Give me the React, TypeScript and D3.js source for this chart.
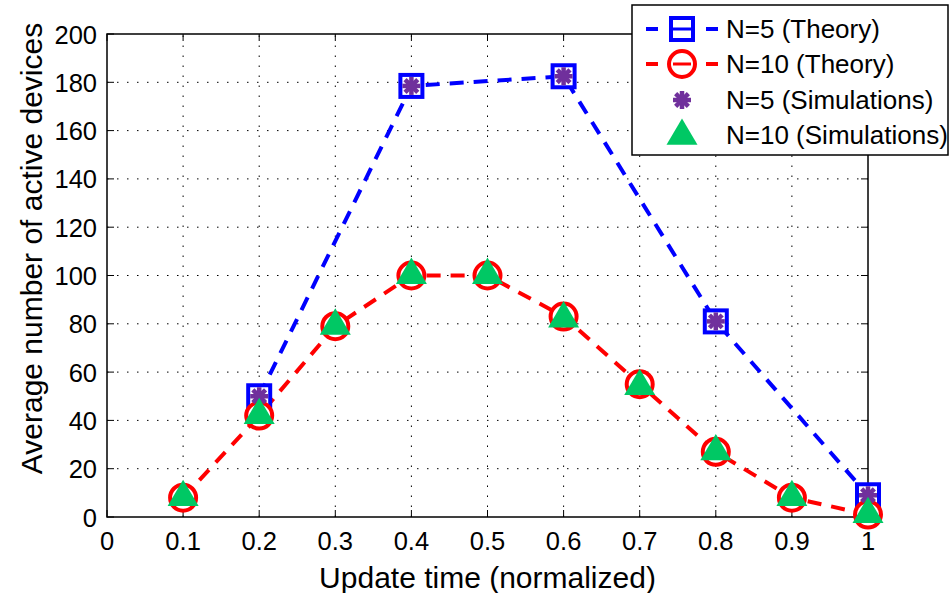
import React from "react";
import * as d3 from "d3";

const xTicks = [0, 0.1, 0.2, 0.3, 0.4, 0.5, 0.6, 0.7, 0.8, 0.9, 1];
const xTickLabels = ["0", "0.1", "0.2", "0.3", "0.4", "0.5", "0.6", "0.7", "0.8", "0.9", "1"];
const yTicks = [0, 20, 40, 60, 80, 100, 120, 140, 160, 180, 200];

const n5X = [0.2, 0.4, 0.6, 0.8, 1.0];
const n5Theory = [50, 178.5, 182.5, 81, 9];
const n5Sim = [50, 178.5, 182.5, 81, 9];

const n10X = [0.1, 0.2, 0.3, 0.4, 0.5, 0.6, 0.7, 0.8, 0.9, 1.0];
const n10Theory = [8, 42, 79, 100, 100, 83, 55, 27, 8, 1];
const n10Sim = [9, 43, 80, 101, 101, 83, 55, 28, 9, 2];

const legendLabels = ["N=5 (Theory)", "N=10 (Theory)", "N=5 (Simulations)", "N=10 (Simulations)"];

const BLUE = "#0000ff";
const RED = "#ff0000";
const PURPLE = "#70309c";
const GREEN = "#00c864";
const FONT = "'Liberation Sans', Arial, Helvetica, sans-serif";

const W = 951, H = 593;
const L = 107, R = 868, T = 34, B = 517;

const x = d3.scaleLinear().domain([0, 1]).range([L, R]);
const y = d3.scaleLinear().domain([0, 200]).range([B, T]);

const Square = ({ cx, cy }: { cx: number; cy: number }) => (
  <rect x={cx - 11} y={cy - 11} width={22} height={22} fill="white" stroke={BLUE} strokeWidth={4} />
);
const Circ = ({ cx, cy }: { cx: number; cy: number }) => (
  <circle cx={cx} cy={cy} r={13} fill="white" stroke={RED} strokeWidth={4} />
);
const Star = ({ cx, cy }: { cx: number; cy: number }) => (
  <g stroke={PURPLE} strokeWidth={4.5} strokeLinecap="butt">
    {[0, 45, 90, 135].map((a) => {
      const r = (a * Math.PI) / 180;
      const dx = Math.cos(r) * 9, dy = Math.sin(r) * 9;
      return <line key={a} x1={cx - dx} y1={cy - dy} x2={cx + dx} y2={cy + dy} />;
    })}
    <circle cx={cx} cy={cy} r={5} fill={PURPLE} stroke="none" />
  </g>
);
const Tri = ({ cx, cy }: { cx: number; cy: number }) => {
  const s = 15.5;
  const pts = `${cx},${cy - s} ${cx + s},${cy + s * 0.7} ${cx - s},${cy + s * 0.7}`;
  return <polygon points={pts} fill={GREEN} />;
};

export default function App() {
  const line = d3.line<[number, number]>().x((d) => x(d[0])).y((d) => y(d[1]));
  const n5Path = line(n5X.map((v, i) => [v, n5Theory[i]]) as [number, number][]) || "";
  const n10Path = line(n10X.map((v, i) => [v, n10Theory[i]]) as [number, number][]) || "";

  const legX = 632, legY = 5, legW = 316, legH = 150;
  const rowY = [29, 64, 100, 135];
  const mx = 682;

  return (
    <svg width={W} height={H} style={{ position: "absolute", left: 0, top: 0, background: "white" }} fontFamily={FONT}>
      <rect x={0} y={0} width={W} height={H} fill="white" />
      {/* grid */}
      <g stroke="#000" strokeWidth={1} strokeDasharray="1.5,8.5">
        {xTicks.slice(1, -1).map((t) => (
          <line key={"gx" + t} x1={x(t)} x2={x(t)} y1={B} y2={T} />
        ))}
        {yTicks.slice(1, -1).map((t) => (
          <line key={"gy" + t} x1={L} x2={R} y1={y(t)} y2={y(t)} />
        ))}
      </g>
      {/* ticks */}
      <g stroke="#000" strokeWidth={1}>
        {xTicks.map((t) => (
          <g key={"tx" + t}>
            <line x1={x(t)} x2={x(t)} y1={B} y2={B - 7} />
            <line x1={x(t)} x2={x(t)} y1={T} y2={T + 7} />
          </g>
        ))}
        {yTicks.map((t) => (
          <g key={"ty" + t}>
            <line x1={L} x2={L + 7} y1={y(t)} y2={y(t)} />
            <line x1={R} x2={R - 7} y1={y(t)} y2={y(t)} />
          </g>
        ))}
      </g>
      <rect x={L} y={T} width={R - L} height={B - T} fill="none" stroke="#000" strokeWidth={1.5} />
      {/* tick labels */}
      <g fontSize={25.5} fill="#000">
        {xTicks.map((t, i) => (
          <text key={"lx" + t} x={x(t)} y={550} textAnchor="middle">{xTickLabels[i]}</text>
        ))}
        {yTicks.map((t) => (
          <text key={"ly" + t} x={97} y={y(t) + 9.5} textAnchor="end">{t}</text>
        ))}
      </g>
      <text x={(L + R) / 2} y={588} textAnchor="middle" fontSize={30}>Update time (normalized)</text>
      <text transform={`translate(42, ${(T + B) / 2 - 27}) rotate(-90)`} textAnchor="middle" fontSize={30}>
        Average number of active devices
      </text>
      {/* lines */}
      <path d={n5Path} fill="none" stroke={BLUE} strokeWidth={4} strokeDasharray="14,10" />
      <path d={n10Path} fill="none" stroke={RED} strokeWidth={4} strokeDasharray="14,10" />
      {/* markers */}
      {n5X.map((v, i) => <Square key={"s" + i} cx={x(v)} cy={y(n5Theory[i])} />)}
      {n10X.map((v, i) => <Circ key={"c" + i} cx={x(v)} cy={y(n10Theory[i])} />)}
      {n5X.map((v, i) => <Star key={"st" + i} cx={x(v)} cy={y(n5Sim[i])} />)}
      {n10X.map((v, i) => <Tri key={"t" + i} cx={x(v)} cy={y(n10Sim[i])} />)}
      {/* legend */}
      <rect x={legX} y={legY} width={legW} height={legH} fill="white" stroke="#000" strokeWidth={1.5} />
      <line x1={646} x2={658} y1={rowY[0]} y2={rowY[0]} stroke={BLUE} strokeWidth={4} />
      <line x1={706} x2={718} y1={rowY[0]} y2={rowY[0]} stroke={BLUE} strokeWidth={4} />
      <rect x={mx - 11} y={rowY[0] - 11} width={22} height={22} fill="white" stroke={BLUE} strokeWidth={4} />
      <line x1={mx - 9} x2={mx + 9} y1={rowY[0]} y2={rowY[0]} stroke={BLUE} strokeWidth={3} />
      <line x1={646} x2={658} y1={rowY[1]} y2={rowY[1]} stroke={RED} strokeWidth={4} />
      <line x1={706} x2={718} y1={rowY[1]} y2={rowY[1]} stroke={RED} strokeWidth={4} />
      <circle cx={mx} cy={rowY[1]} r={13} fill="white" stroke={RED} strokeWidth={4} />
      <line x1={mx - 9} x2={mx + 9} y1={rowY[1]} y2={rowY[1]} stroke={RED} strokeWidth={3} />
      <Star cx={mx} cy={rowY[2]} />
      <Tri cx={mx} cy={rowY[3] - 1} />
      <g fontSize={26} fill="#000">
        {legendLabels.map((s, i) => (
          <text key={s} x={726} y={rowY[i] + 9}>{s}</text>
        ))}
      </g>
    </svg>
  );
}
